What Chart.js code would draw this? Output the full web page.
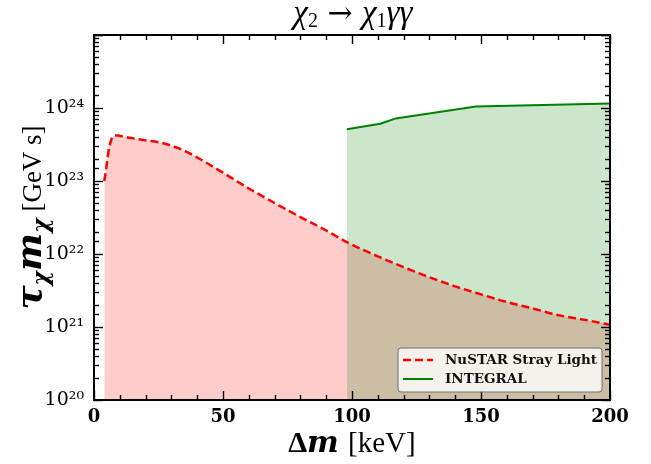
<!DOCTYPE html>
<html><head><meta charset="utf-8">
<script src="https://cdn.jsdelivr.net/npm/chart.js@4.4.1/dist/chart.umd.min.js"></script>
<style>html,body{margin:0;padding:0;background:#fff;}#wrap{width:651px;height:464px;position:relative;}</style>
</head><body><div id="wrap"><canvas id="c"></canvas></div>
<script>
// ---- data ----
const nustarDm  = [4, 4.65, 5.5, 6.6, 7.5, 9.4, 11.2, 14, 20, 25, 30, 35, 40, 50, 60, 70, 80, 90, 98, 110, 120, 130, 140, 150, 160, 170, 180, 190, 200];
const nustarTau = [1.0e23, 1.4e23, 2.4e23, 3.6e23, 4.15e23, 4.2e23, 4.05e23, 3.9e23, 3.6e23, 3.4e23, 3.05e23, 2.6e23, 2.1e23, 1.3e23, 7.9e22, 5.0e22, 3.2e22, 2.1e22, 1.45e22, 9.3e21, 6.6e21, 4.8e21, 3.6e21, 2.8e21, 2.2e21, 1.8e21, 1.45e21, 1.26e21, 1.07e21];
const integralDm  = [98, 111, 117, 148, 200];
const integralTau = [5.1e23, 6.1e23, 7.2e23, 1.05e24, 1.15e24];
const seriesLabels = ['NuSTAR Stray Light', 'INTEGRAL'];
const xTickLabels = [0, 50, 100, 150, 200];
const yDecades = [20, 21, 22, 23, 24];
const titleText = ['χ', '2', ' → ', 'χ', '1', 'γγ'];

const SUP = {'0':'⁰','1':'¹','2':'²','3':'³','4':'⁴','5':'⁵','6':'⁶','7':'⁷','8':'⁸','9':'⁹'};
const isPow10 = v => { const l = Math.log10(v); return Math.abs(l - Math.round(l)) < 1e-9; };

function drawRuns(ctx, runs, cx, baseline){
  let w = 0;
  runs.forEach(r => { ctx.font = r.font; r.w = ctx.measureText(r.t).width + (r.gap||0); w += r.w; });
  let x = cx - w/2;
  ctx.textAlign = 'left'; ctx.textBaseline = 'alphabetic';
  runs.forEach(r => { ctx.font = r.font; ctx.fillText(r.t, x, baseline + (r.dy||0)); x += r.w; });
}

const decor = {
  id: 'decor',
  afterDatasetsDraw(chart){
    const {ctx, chartArea:a, scales:{x, y}} = chart;
    ctx.save();
    ctx.strokeStyle = '#000'; ctx.lineWidth = 1.4;
    const seg = (x1,y1,x2,y2) => { ctx.beginPath(); ctx.moveTo(x1,y1); ctx.lineTo(x2,y2); ctx.stroke(); };
    x.ticks.forEach(t => {
      const px = Math.round(x.getPixelForValue(t.value)) + 0.5;
      const L = xTickLabels.includes(t.value) ? 9 : 5;
      seg(px, a.bottom, px, a.bottom - L); seg(px, a.top, px, a.top + L);
    });
    y.ticks.forEach(t => {
      const py = Math.round(y.getPixelForValue(t.value)) + 0.5;
      const L = isPow10(t.value) ? 9 : 5;
      seg(a.left, py, a.left + L, py); seg(a.right, py, a.right - L, py);
    });
    ctx.lineWidth = 2;
    ctx.strokeRect(a.left, a.top, a.right - a.left, a.bottom - a.top);

    // legend inside plot, lower right
    const lx = a.right - 212, ly = a.bottom - 52, lw = 204, lh = 44, r = 3;
    ctx.beginPath();
    ctx.moveTo(lx + r, ly); ctx.lineTo(lx + lw - r, ly); ctx.quadraticCurveTo(lx + lw, ly, lx + lw, ly + r);
    ctx.lineTo(lx + lw, ly + lh - r); ctx.quadraticCurveTo(lx + lw, ly + lh, lx + lw - r, ly + lh);
    ctx.lineTo(lx + r, ly + lh); ctx.quadraticCurveTo(lx, ly + lh, lx, ly + lh - r);
    ctx.lineTo(lx, ly + r); ctx.quadraticCurveTo(lx, ly, lx + r, ly); ctx.closePath();
    ctx.fillStyle = 'rgba(255,255,255,0.8)'; ctx.fill();
    ctx.strokeStyle = '#6e6e6e'; ctx.lineWidth = 1; ctx.stroke();
    chart.data.datasets.forEach((ds, i) => {
      const yy = ly + 12 + i * 19;
      ctx.strokeStyle = ds.borderColor; ctx.lineWidth = ds.borderWidth;
      ctx.setLineDash(ds.borderDash || []);
      seg(lx + 5, yy, lx + 35, yy);
      ctx.setLineDash([]);
      ctx.fillStyle = '#111'; ctx.font = 'bold 13.5px "DejaVu Serif"';
      ctx.textAlign = 'left'; ctx.textBaseline = 'middle';
      ctx.fillText(ds.label, lx + 47, yy);
    });
    ctx.restore();
  },
  afterDraw(chart){
    const {ctx, chartArea:a} = chart;
    ctx.save(); ctx.fillStyle = '#000';
    const cx = (a.left + a.right) / 2;
    const it = 'italic 33px "Liberation Serif"', rg = '30px "DejaVu Serif"', sb = '20px "Liberation Serif"';
    drawRuns(ctx, [
      {t:titleText[0], font:it}, {t:titleText[1], font:sb, dy:4}, {t:titleText[2], font:rg},
      {t:titleText[3], font:it}, {t:titleText[4], font:sb, dy:4}, {t:titleText[5], font:it}
    ], cx + 1, 23);
    drawRuns(ctx, [
      {t:'Δ', font:'bold 30px "Liberation Serif"'}, {t:'m', font:'bold italic 30px "DejaVu Serif"', gap:2},
      {t:' [keV]', font:'29px "Liberation Serif"'}
    ], cx, 452);
    ctx.translate(41, (a.top + a.bottom) / 2);
    ctx.rotate(-Math.PI / 2);
    drawRuns(ctx, [
      {t:'τ', font:'bold italic 36px "DejaVu Serif"'}, {t:'χ', font:'bold italic 22px "DejaVu Serif"', dy:7},
      {t:'m', font:'bold italic 36px "DejaVu Serif"'}, {t:'χ', font:'bold italic 22px "DejaVu Serif"', dy:7},
      {t:' [GeV s]', font:'27px "Liberation Serif"'}
    ], 0, 0);
    ctx.restore();
  }
};

new Chart(document.getElementById('c'), {
  type: 'line',
  data: {
    datasets: [
      { label: seriesLabels[0], data: nustarDm.map((d, i) => ({x: d, y: nustarTau[i]})),
        borderColor: '#ff0000', borderWidth: 2.5, borderDash: [8, 4], backgroundColor: 'rgba(255,0,0,0.2)',
        fill: 'start', pointRadius: 0, cubicInterpolationMode: 'monotone', order: 1 },
      { label: seriesLabels[1], data: integralDm.map((d, i) => ({x: d, y: integralTau[i]})),
        borderColor: '#008000', borderWidth: 2, backgroundColor: 'rgba(0,128,0,0.2)',
        fill: 'start', pointRadius: 0, tension: 0, order: 0 }
    ]
  },
  options: {
    responsive: true, maintainAspectRatio: false, animation: false,
    layout: { padding: { left: 0, right: 41, top: 35, bottom: 0 } },
    plugins: { legend: { display: false }, title: { display: false }, tooltip: { enabled: false },
      filler: { drawTime: 'beforeDatasetsDraw' } },
    scales: {
      x: { type: 'linear', min: 0, max: 200,
        grid: { display: false, drawTicks: false }, border: { display: false },
        ticks: { stepSize: 10, autoSkip: false, maxRotation: 0, padding: 7, color: '#000',
          font: { family: 'DejaVu Serif', weight: 'bold', size: 18 },
          callback: v => xTickLabels.includes(v) ? String(v) : '' },
        afterFit: s => { s.height = 64; } },
      y: { type: 'logarithmic', min: 1e20, max: 1e25,
        grid: { display: false, drawTicks: false }, border: { display: false },
        ticks: { autoSkip: false, padding: 10, color: '#000',
          font: { family: 'DejaVu Serif', size: 19 },
          callback: v => { if (!isPow10(v)) return ''; const e = Math.round(Math.log10(v));
            if (!yDecades.includes(e)) return ''; return '10' + String(e).split('').map(c => SUP[c]).join(''); } },
        afterFit: s => { s.width = 94; } }
    }
  },
  plugins: [decor]
});
</script></body></html>
